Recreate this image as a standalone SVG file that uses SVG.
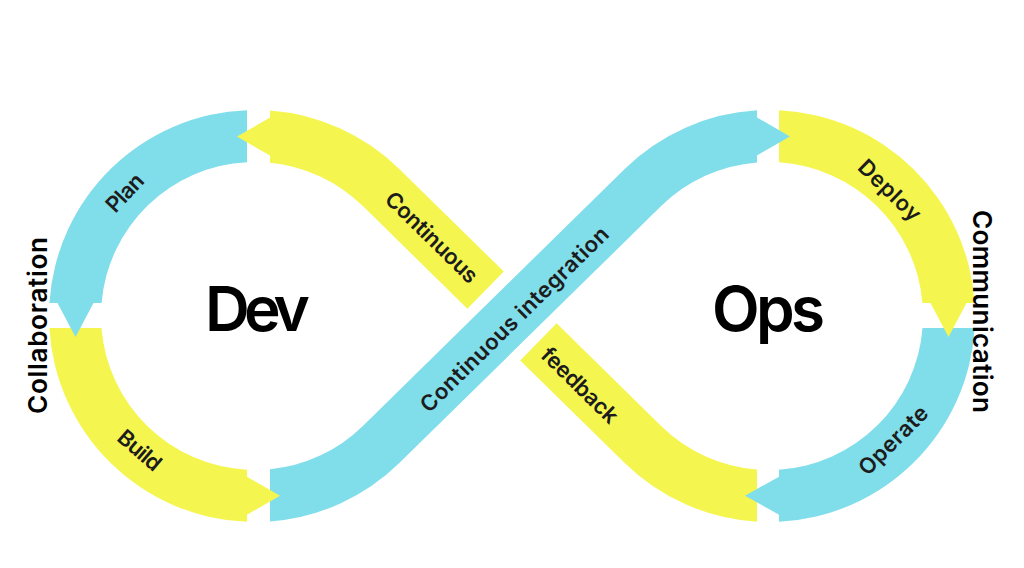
<svg xmlns="http://www.w3.org/2000/svg" width="1024" height="568" viewBox="0 0 1024 568">
  <style>
    .blue { fill: #80DDEA; }
    .yellow { fill: #F5F550; }
    .lbl { font-family: Inter, "Liberation Sans", sans-serif; font-weight: 600; font-size: 22px; fill: #1c1c1c; text-anchor: middle; dominant-baseline: central; }
    .big { font-family: Inter, "Liberation Sans", sans-serif; font-weight: 600; font-size: 62px; fill: #000; }
    .side { font-family: Inter, "Liberation Sans", sans-serif; font-weight: 600; font-size: 26px; fill: #000; text-anchor: middle; }
  </style>
  <rect width="1024" height="568" fill="#fff"/>

  <g id="plan">
    <path class="blue" d="M 247 110.16 A 206 206 0 0 0 49.41 303 L 101.55 303 A 154 154 0 0 1 247 162.2 Z"/>
    <text class="lbl" transform="translate(124.5,192.5) rotate(-46.6)" textLength="44">Plan</text>
  </g>
  <g id="build">
    <path class="yellow" d="M 49.35 328 A 206 206 0 0 0 247 521.84 L 247 469.79 A 154 154 0 0 1 101.47 328 Z"/>
    <text class="lbl" transform="translate(140,450) rotate(40.6)" textLength="50">Build</text>
  </g>
  <g id="continuous-integration">
    <path class="blue" d="M 270 521.45 A 206 206 0 0 0 399.28 463.03 L 661.14 206.08 A 154 154 0 0 1 757 162.47 L 757 110.35 A 206 206 0 0 0 624.72 168.97 L 362.86 425.92 A 154 154 0 0 1 270 469.27 Z"/>
    <text class="lbl" transform="translate(514,319) rotate(-44.46)" textLength="254">Continuous integration</text>
  </g>
  <g id="deploy">
    <path class="yellow" d="M 779 110.24 A 206 206 0 0 1 974.59 303 L 922.45 303 A 154 154 0 0 0 779 162.33 Z"/>
    <text class="lbl" transform="translate(890,190) rotate(44)" textLength="78">Deploy</text>
  </g>
  <g id="operate">
    <path class="blue" d="M 974.65 328 A 206 206 0 0 1 779 521.76 L 779 469.67 A 154 154 0 0 0 922.53 328 Z"/>
    <text class="lbl" transform="translate(893,440) rotate(-45)" textLength="88">Operate</text>
  </g>
  <g id="feedback">
    <path class="yellow" d="M 556.62 323.35 L 661.14 425.92 A 154 154 0 0 0 757 469.53 L 757 521.65 A 206 206 0 0 1 624.72 463.03 L 520.2 360.47 Z"/>
    <text class="lbl" transform="translate(580,385) rotate(44.46)" textLength="98">feedback</text>
  </g>
  <g id="continuous">
    <path class="yellow" d="M 270 110.55 A 206 206 0 0 1 399.28 168.97 L 503.8 271.53 L 467.38 308.65 L 362.86 206.08 A 154 154 0 0 0 270 162.73 Z"/>
    <text class="lbl" transform="translate(432,237) rotate(44.46)" textLength="120">Continuous</text>
  </g>

  <g id="connectors">
    <polygon class="blue" points="57.5,303 93.5,303 75.5,337"/>
    <polygon class="yellow" points="247,476.8 247,514.8 280,495.8"/>
    <polygon class="blue" points="757,117.4 757,155.4 790,136.4"/>
    <polygon class="yellow" points="930.5,303 966.5,303 948.5,337"/>
    <polygon class="blue" points="779,476.7 779,514.7 745,495.7"/>
    <polygon class="yellow" points="270,117.6 270,155.6 237,136.6"/>
  </g>

  <g id="dev">
    <text class="big" x="205" y="331" textLength="105">Dev</text>
  </g>
  <g id="ops">
    <text class="big" x="712" y="331" textLength="113">Ops</text>
  </g>
  <g id="collaboration">
    <text class="side" transform="translate(47,325.5) rotate(-90)" textLength="177">Collaboration</text>
  </g>
  <g id="communication">
    <text class="side" transform="translate(973,311.5) rotate(90)" textLength="203">Communication</text>
  </g>
</svg>
